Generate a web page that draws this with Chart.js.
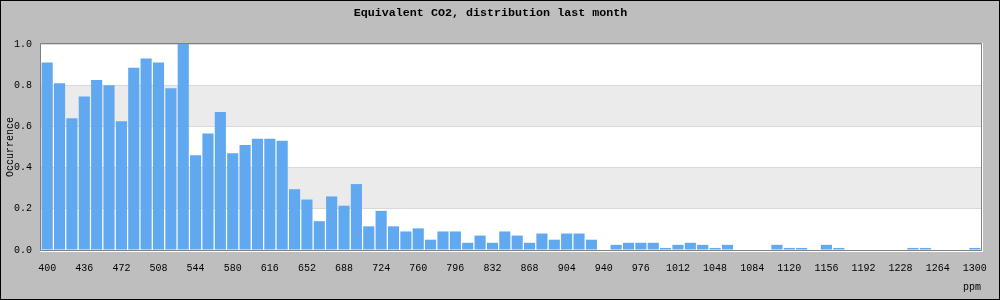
<!doctype html>
<html lang="en">
<head>
    <meta charset="utf-8">
    <script src="https://cdn.jsdelivr.net/npm/chart.js"></script>
    <style>
        html, body { margin: 0; padding: 0; background: #bebebe; }
        canvas { display: block; }
    </style>
</head>
<body>
    <canvas id="myChart" width="1000" height="300"></canvas>
    <script>
        // ppm bins (12 ppm wide)
        const ppm = [400, 412, 424, 436, 448, 460, 472, 484, 496, 508, 520, 532,
            544, 556, 568, 580, 592, 604, 616, 628, 640, 652, 664, 676,
            688, 700, 712, 724, 736, 748, 760, 772, 784, 796, 808, 820,
            832, 844, 856, 868, 880, 892, 904, 916, 928, 940, 952, 964,
            976, 988, 1000, 1012, 1024, 1036, 1048, 1060, 1072, 1084, 1096, 1108,
            1120, 1132, 1144, 1156, 1168, 1180, 1192, 1204, 1216, 1228, 1240, 1252,
            1264, 1276, 1288, 1300];
        const occurrence = [0.91, 0.81, 0.64, 0.745, 0.825, 0.80, 0.625, 0.885, 0.93, 0.91, 0.785, 1.0,
            0.46, 0.565, 0.67, 0.47, 0.51, 0.54, 0.54, 0.53, 0.295, 0.245, 0.14, 0.26,
            0.215, 0.32, 0.115, 0.19, 0.115, 0.09, 0.105, 0.05, 0.09, 0.09, 0.035, 0.07,
            0.035, 0.09, 0.07, 0.035, 0.08, 0.05, 0.08, 0.08, 0.05, 0, 0.025, 0.035,
            0.035, 0.035, 0.01, 0.025, 0.035, 0.025, 0.01, 0.025, 0, 0, 0, 0.025,
            0.01, 0.01, 0, 0.025, 0.01, 0, 0, 0, 0, 0, 0.01, 0.01,
            0, 0, 0, 0.01];
        const yTicks = [0, 0.2, 0.4, 0.6, 0.8, 1.0];

        const mono = "'Liberation Mono', 'DejaVu Sans Mono', monospace";

        // grey frame, white plot area with alternating bands
        const backdrop = {
            id: 'backdrop',
            beforeDraw(chart) {
                const ctx = chart.ctx;
                const a = chart.chartArea;
                const y = chart.scales.y;
                ctx.save();
                ctx.fillStyle = '#bebebe';
                ctx.fillRect(0, 0, chart.width, chart.height);
                ctx.fillStyle = '#ffffff';
                ctx.fillRect(a.left, a.top, a.right - a.left, a.bottom - a.top);
                ctx.fillStyle = '#ebebeb';
                for (let i = 1; i < yTicks.length - 1; i += 2) {
                    const y1 = y.getPixelForValue(yTicks[i + 1]);
                    const y0 = y.getPixelForValue(yTicks[i]);
                    ctx.fillRect(a.left, y1, a.right - a.left, y0 - y1);
                }
                ctx.restore();
            },
            afterDraw(chart) {
                const ctx = chart.ctx;
                const a = chart.chartArea;
                ctx.save();
                ctx.lineWidth = 1;
                ctx.strokeStyle = '#808080';
                ctx.beginPath();
                ctx.moveTo(a.left - 0.5, a.bottom + 0.5);
                ctx.lineTo(a.left - 0.5, a.top - 0.5);
                ctx.lineTo(a.right + 0.5, a.top - 0.5);
                ctx.lineTo(a.right + 0.5, a.bottom + 0.5);
                ctx.lineTo(a.left - 0.5, a.bottom + 0.5);
                ctx.stroke();
                ctx.strokeStyle = '#ffffff';
                ctx.beginPath();
                ctx.moveTo(a.right + 1.5, a.top - 1);
                ctx.lineTo(a.right + 1.5, a.bottom + 1.5);
                ctx.lineTo(a.left - 1, a.bottom + 1.5);
                ctx.stroke();
                ctx.strokeStyle = '#000000';
                ctx.strokeRect(0.5, 0.5, chart.width - 1, chart.height - 1);
                ctx.restore();
            }
        };

        const config = {
            type: 'bar',
            data: {
                labels: ppm,
                datasets: [{
                    label: 'Occurrence',
                    data: occurrence,
                    backgroundColor: '#60a8f0',
                    borderWidth: 0,
                    barPercentage: 0.9,
                    categoryPercentage: 1.0
                }]
            },
            options: {
                responsive: false,
                animation: false,
                devicePixelRatio: 1,
                layout: {
                    padding: { left: 0, right: 19, top: 0, bottom: 0 }
                },
                plugins: {
                    legend: { display: false },
                    tooltip: { enabled: false },
                    title: {
                        display: true,
                        text: 'Equivalent CO2, distribution last month',
                        color: '#000000',
                        font: { family: mono, size: 11.7, weight: 'bold', lineHeight: 1.2 },
                        padding: { top: 6, bottom: 23.96 }
                    }
                },
                scales: {
                    x: {
                        grid: { display: false, drawTicks: false },
                        border: { display: false },
                        ticks: {
                            autoSkip: false,
                            maxRotation: 0,
                            minRotation: 0,
                            padding: 12,
                            color: '#000000',
                            font: { family: mono, size: 10 },
                            callback: function (val, i) {
                                return i % 3 === 0 ? ppm[i] : '';
                            }
                        },
                        title: {
                            display: true,
                            text: 'ppm',
                            align: 'end',
                            color: '#000000',
                            font: { family: mono, size: 10 },
                            padding: { top: 0, bottom: 7 }
                        },
                        afterFit: function (scale) {
                            scale.height = 50;
                        }
                    },
                    y: {
                        min: 0,
                        max: 1,
                        afterBuildTicks: function (scale) {
                            scale.ticks = yTicks.map(v => ({ value: v }));
                        },
                        grid: { color: '#d9d9d9', drawTicks: false },
                        border: { display: false },
                        ticks: {
                            padding: 9,
                            color: '#000000',
                            font: { family: mono, size: 10 },
                            callback: function (val) {
                                return val.toFixed(1);
                            }
                        },
                        title: {
                            display: true,
                            text: 'Occurrence',
                            color: '#000000',
                            font: { family: mono, size: 10 },
                            padding: { top: 4, bottom: 0 }
                        },
                        afterFit: function (scale) {
                            scale.width = 41;
                        }
                    }
                }
            },
            plugins: [backdrop]
        };

        const myChart = new Chart(document.getElementById('myChart'), config);
    </script>
</body>
</html>
